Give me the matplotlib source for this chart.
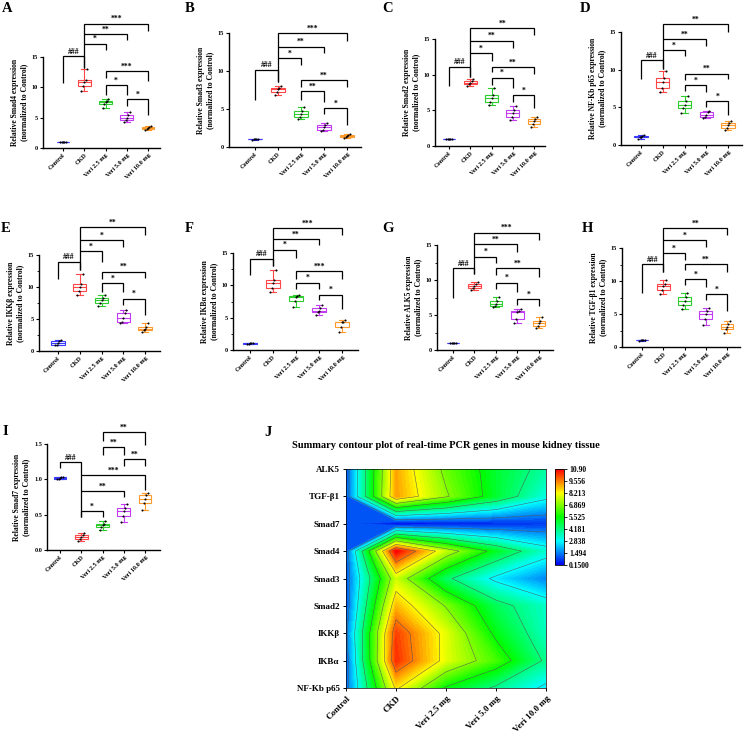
import numpy as np
import matplotlib
matplotlib.use('Agg')
import matplotlib.pyplot as plt
from matplotlib.colors import LinearSegmentedColormap, Normalize
from matplotlib.ticker import MultipleLocator

plt.rcParams['font.family'] = ['Liberation Serif', 'DejaVu Serif']
plt.rcParams['font.weight'] = 'bold'
plt.rcParams['axes.labelweight'] = 'bold'

groups = ['Control', 'CKD', 'Veri 2.5 mg', 'Veri 5.0 mg', 'Veri 10.0 mg']
box_colors = ['#3a3aff', '#ff4545', '#2ecc2e', '#c23cf0', '#ff9a2e']

# ---- per-group sample values ----
smad4 = [[0.95, 1.0, 1.0, 1.02, 1.05], [9.4, 10.3, 10.8, 11.2, 13.0], [6.6, 7.2, 7.6, 7.8, 8.1],
         [4.3, 4.6, 5.0, 5.4, 6.0], [2.9, 3.1, 3.3, 3.5, 3.7]]
smad3 = [[0.95, 1.0, 1.0, 1.0, 1.05], [6.9, 7.3, 7.6, 7.8, 8.0], [3.7, 4.0, 4.3, 4.7, 5.3],
         [2.1, 2.3, 2.6, 2.9, 3.2], [1.2, 1.3, 1.5, 1.6, 1.7]]
smad2 = [[0.95, 1.0, 1.0, 1.0, 1.05], [8.45, 8.7, 8.9, 9.1, 9.35], [5.7, 6.2, 6.7, 7.2, 8.2],
         [3.6, 4.0, 4.6, 5.1, 5.6], [2.6, 3.1, 3.5, 3.8, 4.1]]
nfkb = [[0.85, 1.0, 1.1, 1.2, 1.35], [7.1, 7.6, 8.4, 8.9, 9.8], [4.3, 4.9, 5.3, 5.8, 6.5],
        [3.55, 3.7, 4.0, 4.4, 4.55], [2.0, 2.3, 2.6, 2.9, 3.2]]
ikkb = [[0.95, 1.0, 1.2, 1.5, 1.7], [8.7, 9.4, 10.0, 10.5, 12.0], [7.0, 7.5, 7.9, 8.3, 8.7],
        [4.4, 4.5, 5.2, 6.0, 6.4], [2.9, 3.3, 3.5, 3.8, 4.3]]
ikba = [[0.95, 1.0, 1.05, 1.1, 1.15], [9.0, 9.6, 10.4, 10.8, 12.3], [6.7, 7.6, 8.2, 8.4, 8.5],
        [5.4, 5.8, 6.1, 6.5, 7.0], [2.8, 3.6, 4.3, 4.4, 4.6]]
alk5 = [[0.98, 1.0, 1.0, 1.0, 1.02], [8.6, 8.9, 9.1, 9.4, 9.75], [6.2, 6.3, 6.6, 7.0, 7.6],
        [3.8, 4.5, 5.4, 5.6, 5.85], [3.2, 3.4, 3.8, 4.2, 4.65]]
tgfb1 = [[0.98, 1.0, 1.0, 1.0, 1.02], [8.1, 8.6, 9.2, 9.5, 10.2], [5.7, 6.4, 7.0, 7.6, 8.2],
         [3.3, 4.3, 5.0, 5.5, 5.85], [2.1, 2.7, 3.1, 3.5, 3.9]]
smad7 = [[1.0, 1.01, 1.02, 1.03, 1.04], [0.13, 0.16, 0.19, 0.21, 0.24], [0.28, 0.32, 0.35, 0.37, 0.41],
         [0.40, 0.48, 0.55, 0.60, 0.65], [0.56, 0.66, 0.72, 0.78, 0.80]]

# ---- significance brackets: (group i, group j, bar y, left leg end, right leg end, label) ----
br_A = [(0, 1, 15.1, 10.7, 13.2, '###'), (1, 2, 17.2, 17.2, 16.2, '*'), (1, 3, 18.8, 18.8, 17.8, '**'),
        (1, 4, 20.5, 13.2, 19.3, '***'), (2, 4, 12.7, 11.5, 11.1, '***'), (2, 3, 10.4, 8.7, 8.7, '*'),
        (3, 4, 8.0, 6.9, 5.4, '*')]
br_B = [(0, 1, 10.15, 6.2, 8.6, '###'), (1, 2, 11.7, 11.7, 10.8, '*'), (1, 3, 13.2, 13.2, 12.35, '**'),
        (1, 4, 15.0, 8.6, 13.9, '***'), (2, 4, 8.8, 7.9, 7.9, '**'), (2, 3, 7.37, 6.2, 5.95, '**'),
        (3, 4, 5.16, 4.4, 2.9, '*')]
br_C = [(0, 1, 11.1, 8.4, 9.7, '###'), (1, 2, 13.0, 13.0, 11.85, '*'), (1, 3, 14.76, 14.76, 13.7, '**'),
        (1, 4, 16.5, 9.7, 15.5, '**'), (2, 4, 11.1, 10.4, 10.1, '**'), (2, 3, 9.6, 8.6, 8.2, '*'),
        (3, 4, 7.15, 6.2, 5.27, '*')]
br_D = [(0, 1, 11.25, 8.73, 10.15, '###'), (1, 2, 12.57, 12.57, 11.78, '*'), (1, 3, 14.1, 14.1, 13.15, '**'),
        (1, 4, 16.0, 10.15, 15.0, '**'), (2, 4, 9.48, 8.6, 8.73, '**'), (2, 3, 7.94, 7.2, 7.06, '*'),
        (3, 4, 5.82, 4.98, 3.97, '*')]
br_E = [(0, 1, 13.96, 11.24, 12.65, '###'), (1, 2, 15.63, 15.63, 13.96, '*'), (1, 3, 17.36, 17.36, 16.3, '*'),
        (1, 4, 19.34, 12.65, 18.2, '**'), (2, 4, 12.39, 11.19, 11.34, '**'), (2, 3, 10.56, 9.25, 9.25, '*'),
        (3, 4, 8.2, 7.16, 5.7, '*')]
br_F = [(0, 1, 14.12, 11.56, 12.94, '###'), (1, 2, 15.51, 15.51, 14.23, '*'), (1, 3, 17.2, 17.2, 16.18, '**'),
        (1, 4, 18.85, 12.94, 17.82, '***'), (2, 4, 12.22, 11.04, 11.04, '***'), (2, 3, 10.43, 9.4, 9.4, '*'),
        (3, 4, 8.58, 7.7, 6.32, '*')]
br_G = [(0, 1, 11.67, 7.38, 10.8, '###'), (1, 2, 13.33, 13.33, 12.38, '*'), (1, 3, 15.1, 15.1, 14.05, '**'),
        (1, 4, 16.76, 10.8, 15.7, '***'), (2, 4, 11.67, 10.7, 10.5, '**'), (2, 3, 9.62, 8.67, 8.33, '*'),
        (3, 4, 7.24, 6.43, 6.33, '*')]
br_H = [(0, 1, 12.54, 8.13, 11.29, '###'), (1, 2, 14.25, 14.25, 13.15, '*'), (1, 3, 16.16, 16.16, 15.15, '*'),
        (1, 4, 18.06, 11.29, 16.9, '**'), (2, 4, 12.54, 11.64, 11.29, '**'), (2, 3, 10.29, 9.38, 9.03, '*'),
        (3, 4, 7.98, 7.12, 5.47, '*')]
br_I = [(0, 1, 1.24, 1.16, 1.06, '###'), (1, 4, 1.06, 0.47, 0.85, '***'), (1, 3, 0.83, 0.83, 0.75, '**'),
        (1, 2, 0.55, 0.47, 0.47, '*'), (2, 4, 1.67, 1.54, 1.48, '**'), (2, 3, 1.46, 1.34, 1.35, '**'),
        (3, 4, 1.29, 1.19, 1.19, '**')]

# ---- contour summary table (group means) ----
genes = ['NF-Kb p65', 'IKBα', 'IKKβ', 'Smad2', 'Smad3', 'Smad4', 'Smad7', 'TGF-β1', 'ALK5']
z_nfkb = [1.1, 8.4, 5.4, 4.0, 2.6]
z_ikba = [1.05, 10.4, 7.9, 6.2, 4.0]
z_ikkb = [1.3, 10.2, 7.9, 5.3, 3.5]
z_smad2 = [1.0, 8.9, 6.8, 4.6, 3.4]
z_smad3 = [1.0, 7.6, 4.4, 2.6, 1.5]
z_smad4 = [1.0, 10.9, 7.5, 5.1, 3.3]
z_smad7 = [1.02, 0.15, 0.35, 0.54, 0.72]
z_tgfb1 = [1.0, 9.2, 7.0, 5.0, 3.1]
z_alk5 = [1.0, 9.1, 6.6, 5.0, 3.8]
cbar_labels = ['0.1500', '1.494', '2.838', '4.181', '5.525', '6.869', '8.213', '9.556', '10.90']

W, H = 747, 740
fig = plt.figure(figsize=(W / 100, H / 100), dpi=100)


def px_axes(L, R, T, B):
    return fig.add_axes([L / W, 1 - B / H, (R - L) / W, (B - T) / H])


def bracket(ax, i, j, y, yl, yr, txt):
    ax.plot([i, i, j, j], [yl, y, y, yr], color='k', lw=0.9, clip_on=False,
            solid_joinstyle='miter', solid_capstyle='butt')
    ax.annotate(txt, xy=((i + j) / 2, y), xytext=(0, 0.3), textcoords='offset points',
                ha='center', va='bottom', fontsize=5.5, annotation_clip=False)


offsets = [-0.14, -0.05, 0.0, 0.06, 0.14]

# (letter, gene, data, brackets, (left px, control px, spacing px, right px, top px, bottom px),
#  ymax, major, minor, letter pos)
panels = [
    ('A', 'Smad4', smad4, br_A, (43, 63, 21.25, 160, 57, 148), 15, 5, None, (7, 9)),
    ('B', 'Smad3', smad3, br_B, (229, 255, 23.0, 361, 33, 147), 15, 5, None, (190, 8)),
    ('C', 'Smad2', smad2, br_C, (435, 449, 21.25, 545, 39, 146), 15, 5, None, (388, 9)),
    ('D', 'NF-Kb p65', nfkb, br_D, (621, 641, 21.75, 742, 32, 145), 15, 5, None, (585, 9)),
    ('E', 'IKKβ', ikkb, br_E, (39, 58, 21.75, 160, 255, 351), 15, 5, 2.5, (6, 228)),
    ('F', 'IKBα', ikba, br_F, (233, 250, 23.0, 358, 253, 350), 15, 5, 2.5, (189, 228)),
    ('G', 'ALK5', alk5, br_G, (437, 453, 21.5, 553, 245, 350), 15, 5, 2.5, (388, 228)),
    ('H', 'TGF-β1', tgfb1, br_H, (622, 642, 21.25, 740, 248, 347), 15, 5, 2.5, (587, 228)),
    ('I', 'Smad7', smad7, br_I, (47, 60, 21.25, 160, 444, 550), 1.5, 0.5, None, (5, 431)),
]

for letter, gene, data, brs, (L, C0, sp, R, T, B), ymax, major, minor, lpos in panels:
    ax = px_axes(L, R, T, B)
    xlo = -(C0 - L) / sp
    xhi = (R - C0) / sp
    bp = ax.boxplot(data, positions=range(5), widths=0.6, whis=(0, 100), patch_artist=True,
                    showfliers=False)
    for k in range(5):
        c = box_colors[k]
        bp['boxes'][k].set(facecolor='white', edgecolor=c, linewidth=0.8)
        bp['medians'][k].set(color=c, linewidth=0.8)
        for w in bp['whiskers'][2 * k:2 * k + 2]:
            w.set(color=c, linewidth=0.8)
        for cp in bp['caps'][2 * k:2 * k + 2]:
            cp.set(color=c, linewidth=0.8)
        xs = [k + o for o in offsets[:len(data[k])]]
        ax.scatter(xs, data[k], s=2.2, color='k', zorder=4, linewidths=0)
    ax.set_xlim(xlo, xhi)
    ax.set_ylim(0, ymax)
    ax.yaxis.set_major_locator(MultipleLocator(major))
    if minor:
        ax.yaxis.set_minor_locator(MultipleLocator(minor))
    if ymax < 2:
        ax.set_yticklabels([f'{v:.1f}' for v in ax.get_yticks()])
    for s in ['top', 'right']:
        ax.spines[s].set_visible(False)
    for s in ['left', 'bottom']:
        ax.spines[s].set_linewidth(1.0)
    ax.tick_params(axis='both', which='major', labelsize=4.5, length=2, width=0.8, pad=1.5)
    ax.tick_params(axis='y', which='minor', length=1.3, width=0.6)
    ax.set_xticks(range(5))
    ax.set_xticklabels(groups, rotation=45, ha='right', va='top', rotation_mode='anchor')
    ax.set_ylabel(f'Relative {gene} expression\n(normalized to Control)', fontsize=5.5,
                  labelpad=3, linespacing=1.1)
    for (i, j, y, yl, yr, txt) in brs:
        bracket(ax, i, j, y, yl, yr, txt)
    fig.text(lpos[0] / W, 1 - lpos[1] / H, letter, fontsize=10.5, fontweight='bold',
             ha='center', va='center')

# ---- J: contour ----
Z = np.array([z_nfkb, z_ikba, z_ikkb, z_smad2, z_smad3, z_smad4, z_smad7, z_tgfb1, z_alk5])
cbar_ticks = [float(t) for t in cbar_labels]
vmin, vmax = cbar_ticks[0], cbar_ticks[-1]
cmap = LinearSegmentedColormap.from_list('rainbow5', ['#0000f0', '#00ffff', '#00ff00', '#ffff00', '#ff0000'])
axj = px_axes(346, 546, 469, 688)
xg = np.arange(Z.shape[1])
yg = np.arange(Z.shape[0])
fill_levels = np.linspace(vmin, vmax, 65)
cf = axj.contourf(xg, yg, Z, levels=fill_levels, cmap=cmap, norm=Normalize(vmin, vmax), extend='both')
axj.contour(xg, yg, Z, levels=cbar_ticks, colors='#555555', linewidths=0.35)
axj.set_xlim(0, 4)
axj.set_ylim(0, 8)
axj.set_xticks(range(5))
axj.set_xticklabels(groups, rotation=45, ha='right', va='top', rotation_mode='anchor')
axj.set_yticks(range(9))
axj.set_yticklabels(genes)
axj.tick_params(labelsize=6.5, length=2.5, width=0.7, pad=2)
for s in axj.spines.values():
    s.set_linewidth(0.5)
fig.text(446 / W, 1 - 445 / H, 'Summary contour plot of real-time PCR genes in mouse kidney tissue',
         fontsize=7.5, fontweight='bold', ha='center', va='center')
fig.text(268 / W, 1 - 432 / H, 'J', fontsize=10.5, fontweight='bold', ha='center', va='center')

cax = px_axes(555, 564, 469, 565)
sm = plt.cm.ScalarMappable(norm=Normalize(vmin, vmax), cmap=cmap)
cb = fig.colorbar(sm, cax=cax, ticks=cbar_ticks)
cb.ax.set_yticklabels(cbar_labels)
cb.ax.tick_params(labelsize=5.5, length=2, width=0.6, pad=1.5)
cb.outline.set_linewidth(0.6)

fig.savefig('out.png', dpi=100)
